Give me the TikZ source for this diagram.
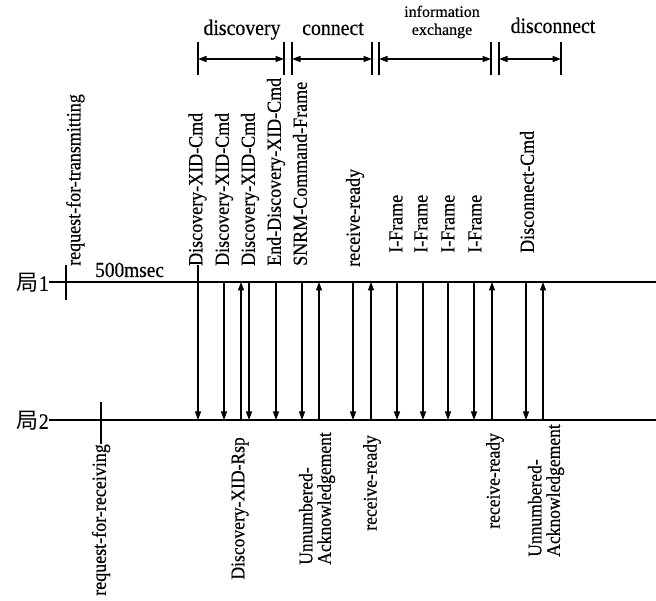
\documentclass[tikz,border=0pt]{standalone}
\usepackage{fontspec}
\setmainfont{Liberation Serif}[FakeStretch=0.9,FakeBold=0.4]
\newfontfamily\hdfont{Liberation Serif}[FakeBold=0.4]
\newfontfamily\cjk{Noto Sans CJK JP}
\usetikzlibrary{arrows.meta}
\tikzset{
  tip/.tip={Triangle[length=8.5pt,width=6pt]},
  msg/.style={line width=1.1pt,-tip},
  stn/.style={line width=1.3pt},
  tick/.style={line width=1.3pt},
  span/.style={line width=1.2pt,tip-tip},
  vlab/.style={font=\fontsize{20}{20}\selectfont,rotate=90,inner sep=0pt},
  toplab/.style={vlab,anchor=west},
  botlab/.style={vlab,anchor=east,align=left,font=\fontsize{19.5}{18.5}\selectfont},
  head/.style={font=\fontsize{22}{22}\selectfont,anchor=base,inner sep=0pt},
  smallhead/.style={font=\hdfont\fontsize{16}{17.9}\selectfont,align=center,inner sep=0pt},
  stlab/.style={font=\fontsize{22}{22}\selectfont,anchor=east,inner sep=0pt}
}
\begin{document}
\begin{tikzpicture}[x=1pt,y=-1pt]
\useasboundingbox (0,0) rectangle (656,601);
% ---------- header spans ----------
\foreach \n/\x in {p1/198,p2/284,p3/292,p4/372,p5/379,p6/491,p7/499,p8/561}{
  \coordinate (\n t) at (\x,42);
  \coordinate (\n b) at (\x,75);
  \coordinate (\n m) at (\x,59);
  \draw[tick] (\n t) -- (\n b);
}
\draw[span] (p1m) -- (p2m);
\draw[span] (p3m) -- (p4m);
\draw[span] (p5m) -- (p6m);
\draw[span] (p7m) -- (p8m);
\node[head] (hdisc) at (242,35) {discovery};
\node[head] (hconn) at (333,35) {connect};
\node[smallhead] (hinfo) at (442,22) {information\\exchange};
\node[head] (hdisn) at (553,33) {disconnect};
% ---------- station lines ----------
\node[stlab] (st1) at (49,283) {{\cjk 局}1};
\node[stlab] (st2) at (49,421) {{\cjk 局}2};
\coordinate (s1r) at (656,282);
\coordinate (s2r) at (656,420);
\draw[stn] (st1.east) ++(0,-1) -- (s1r);
\draw[stn] (st2.east) ++(0,-1) -- (s2r);
% request ticks
\coordinate (rt1) at (66,265);
\coordinate (rt2) at (66,300);
\draw[tick] (rt1) -- (rt2);
\node[vlab,anchor=north west] (reqtx) at (66,266) {request-for-transmitting};
\coordinate (rr1) at (101,402);
\coordinate (rr2) at (101,444);
\draw[tick] (rr1) -- (rr2);
\node[vlab,anchor=east] (reqrx) at (101,444) {request-for-receiving};
\node[font=\fontsize{21.5}{21.5}\selectfont,anchor=base west,inner sep=0pt] (ms) at (95,277) {500msec};
% ---------- top labels ----------
\node[toplab] (l1) at (197.5,266) {Discovery-XID-Cmd};
\node[toplab] (l2) at (224,266) {Discovery-XID-Cmd};
\node[toplab] (l3) at (250,266) {Discovery-XID-Cmd};
\node[toplab] (l4) at (276,266) {End-Discovery-XID-Cmd};
\node[toplab] (l5) at (300,266) {SNRM-Command-Frame};
\node[toplab] (l6) at (355,267) {receive-ready};
\node[toplab] (l7) at (396,253) {I-Frame};
\node[toplab] (l8) at (421,253) {I-Frame};
\node[toplab] (l9) at (448,253) {I-Frame};
\node[toplab] (l10) at (475,253) {I-Frame};
\node[toplab] (l11) at (527,253) {Disconnect-Cmd};
% ---------- bottom labels ----------
\node[botlab] (m1) at (240,437) {Discovery-XID-Rsp};
\node[botlab] (m2) at (317,432) {Unnumbered-\\Acknowledgement};
\node[botlab] (m3) at (372,435) {receive-ready};
\node[botlab] (m4) at (495,433) {receive-ready};
\node[botlab] (m5) at (546,424) {Unnumbered-\\Acknowledgement};
% ---------- messages ----------
\coordinate (a0) at (198,265);
\foreach \n/\x in {d1/198,d2/224,d3/249,d4/276,d5/302,d6/353,d7/397,d8/423,d9/448,d10/474,d11/526,
                   u1/241,u2/319,u3/371,u4/492,u5/543}{
  \coordinate (\n t) at (\x,282);
  \coordinate (\n b) at (\x,420);
}
\draw[msg] (a0) -- (d1b);
\foreach \n in {d2,d3,d4,d5,d6,d7,d8,d9,d10,d11}{
  \draw[msg] (\n t) -- (\n b);
}
\foreach \n in {u1,u2,u3,u4,u5}{
  \draw[msg] (\n b) -- (\n t);
}
\end{tikzpicture}
\end{document}
